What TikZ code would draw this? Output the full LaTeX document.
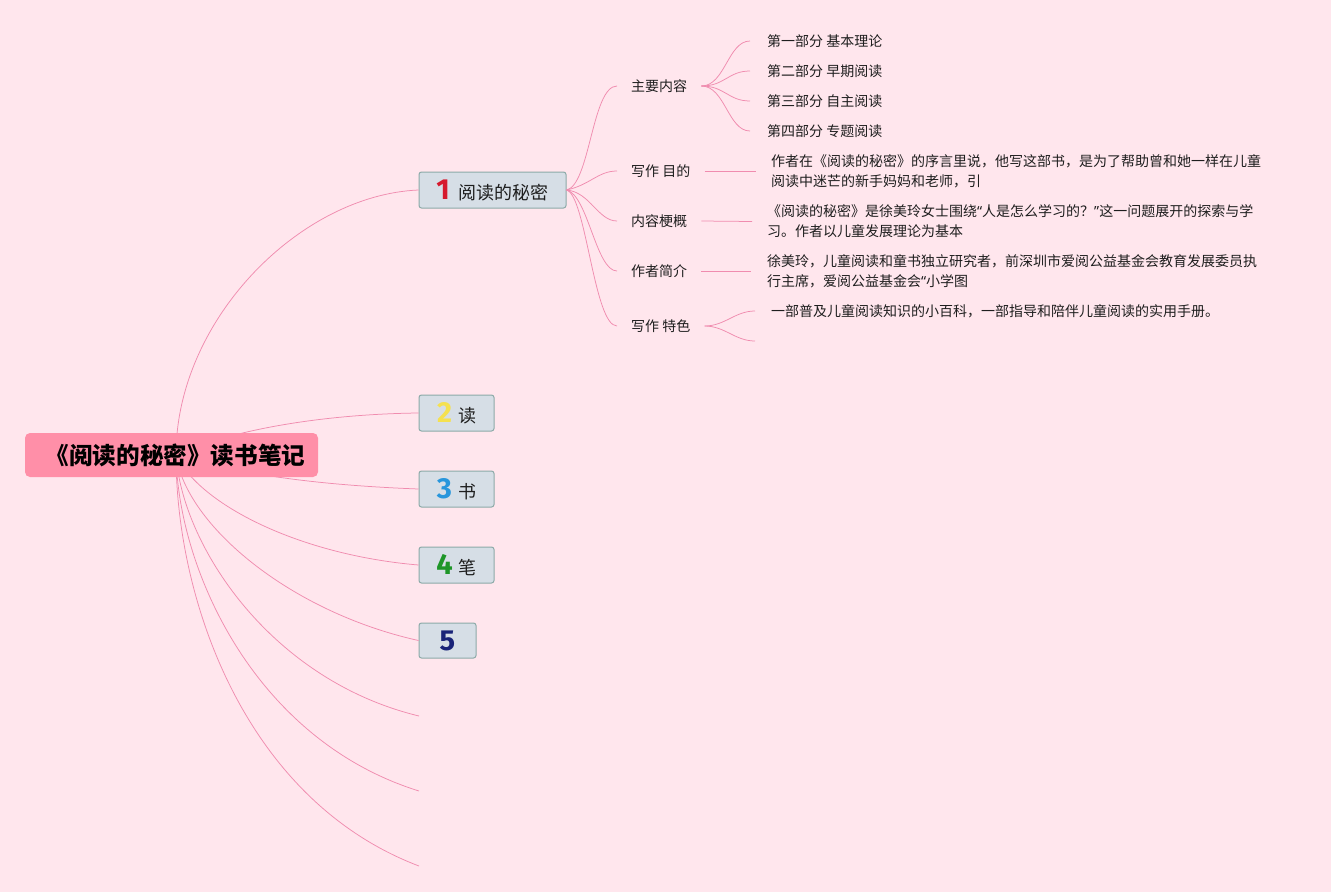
\documentclass[tikz,border=0pt]{standalone}
\usepackage{fontspec}
\newfontfamily\cjk{Noto Sans CJK SC}
\newfontfamily\numf{Fira Sans}
\newfontfamily\qf{Noto Sans}
\definecolor{bg}{RGB}{255,230,237}
\definecolor{rootfill}{RGB}{255,143,168}
\definecolor{boxfill}{RGB}{214,222,230}
\definecolor{boxdraw}{RGB}{140,170,168}
\definecolor{linkc}{RGB}{240,140,175}
\definecolor{txt}{RGB}{30,30,30}
\definecolor{n1}{RGB}{214,25,45}
\definecolor{n2}{RGB}{245,225,80}
\definecolor{n3}{RGB}{40,150,220}
\definecolor{n4}{RGB}{30,150,40}
\definecolor{n5}{RGB}{25,35,120}
\tikzset{
  rootbox/.style={fill=rootfill, rounded corners=5pt, minimum width=293pt, minimum height=44pt, inner sep=0pt,
    font=\cjk\bfseries\fontsize{23.6}{26}\selectfont, text=black},
  topicbox/.style={fill=boxfill, draw=boxdraw, line width=1pt, rounded corners=2.5pt, minimum height=36pt,
    inner xsep=17pt, inner ysep=0pt, font=\cjk\fontsize{18}{20}\selectfont, text=txt},
  sublabel/.style={inner xsep=14pt, inner ysep=2pt, anchor=west, font=\cjk\fontsize{14}{20}\selectfont, text=txt},
  leaf/.style={inner xsep=15pt, inner ysep=2pt, anchor=west, align=left, font=\cjk\fontsize{14}{20}\selectfont, text=txt},
  link/.style={draw=linkc, line width=0.75pt}
}
\newcommand{\bignum}[2]{{\numf\bfseries\fontsize{29}{29}\selectfont\color{#1}#2}}
\newcommand{\myoq}{{\qf “}}
\newcommand{\mycq}{{\qf ”}}
\begin{document}
\begin{tikzpicture}[x=1pt,y=-1pt]
\fill[bg] (0,0) rectangle (1331,892);
\useasboundingbox (0,0) rectangle (1331,892);

% hubs and free ends
\coordinate (hub) at (176,455);
\coordinate (e6) at (419,716);
\coordinate (e7) at (419,791);
\coordinate (e8) at (419,866);

% level 1 topics
\node[topicbox, minimum width=147pt] (b1) at (492.5,190) {\bignum{n1}{1}\hspace{9pt}阅读的秘密};
\node[topicbox, minimum width=75pt] (b2) at (456.5,413) {\bignum{n2}{2}\hspace{6pt}读};
\node[topicbox, minimum width=75pt] (b3) at (456.5,489) {\bignum{n3}{3}\hspace{6pt}书};
\node[topicbox, minimum width=75pt] (b4) at (456.5,565) {\bignum{n4}{4}\hspace{6pt}笔};
\node[topicbox, minimum width=57pt, minimum height=35pt] (b5) at (447.5,640.5) {\bignum{n5}{5}};

% root connectors
\draw[link] (hub) .. controls (176,320) and (300,195) .. (b1.west);
\draw[link] (hub) .. controls (235,428) and (330,414) .. (b2.west);
\draw[link] (hub) .. controls (250,478) and (340,486) .. (b3.west);
\draw[link] (hub) .. controls (200,505) and (300,555) .. (b4.west);
\draw[link] (hub) .. controls (186,525) and (290,612) .. (b5.west);
\draw[link] (hub) .. controls (182,545) and (270,680) .. (e6);
\draw[link] (hub) .. controls (178,570) and (255,740) .. (e7);
\draw[link] (hub) .. controls (176,600) and (245,800) .. (e8);

% root
\node[rootbox] (root) at (171.5,455) {\hspace{8pt}《阅读的秘密》读书笔记};

% level 2
\node[sublabel] (m1) at (617,86) {主要内容};
\node[sublabel] (m2) at (617,171) {写作 目的};
\node[sublabel] (m3) at (617,221) {内容梗概};
\node[sublabel] (m4) at (617,271) {作者简介};
\node[sublabel] (m5) at (617,326) {写作 特色};

\draw[link] (b1.east) .. controls (590,185) and (592,86) .. (m1.west);
\draw[link] (b1.east) .. controls (590,185) and (598,171) .. (m2.west);
\draw[link] (b1.east) .. controls (590,192) and (598,221) .. (m3.west);
\draw[link] (b1.east) .. controls (588,195) and (596,271) .. (m4.west);
\draw[link] (b1.east) .. controls (586,195) and (594,326) .. (m5.west);

% leaves of 主要内容
\node[leaf, inner xsep=17pt] (l1) at (750,41) {第一部分 基本理论};
\node[leaf, inner xsep=17pt] (l2) at (750,71) {第二部分 早期阅读};
\node[leaf, inner xsep=17pt] (l3) at (750,101) {第三部分 自主阅读};
\node[leaf, inner xsep=17pt] (l4) at (750,131) {第四部分 专题阅读};
\foreach \l/\yy in {l1/41,l2/71,l3/101,l4/131}{
  \draw[link] (m1.east) .. controls (725,86) and (728,\yy) .. (\l.west);
}

% other leaves
\node[leaf] (p2) at (756,171) {作者在《阅读的秘密》的序言里说，他写这部书，是为了帮助曾和她一样在儿童\\阅读中迷芒的新手妈妈和老师，引};
\node[leaf] (p3) at (752,221.5) {《阅读的秘密》是徐美玲女士围绕\myoq 人是怎么学习的？\mycq 这一问题展开的探索与学\\习。作者以儿童发展理论为基本};
\node[leaf, inner xsep=16pt] (p4) at (751,271) {徐美玲，儿童阅读和童书独立研究者，前深圳市爱阅公益基金会教育发展委员执\\行主席，爱阅公益基金会\myoq 小学图};
\node[leaf, inner xsep=16pt] (p5) at (755,311) {一部普及儿童阅读知识的小百科，一部指导和陪伴儿童阅读的实用手册。};
\coordinate (p6) at (755,341);

\draw[link] (m2.east) -- (p2.west);
\draw[link] (m3.east) -- (p3.west);
\draw[link] (m4.east) -- (p4.west);
\draw[link] (m5.east) .. controls (725,326) and (735,311) .. (p5.west);
\draw[link] (m5.east) .. controls (725,326) and (735,341) .. (p6);
\end{tikzpicture}
\end{document}
